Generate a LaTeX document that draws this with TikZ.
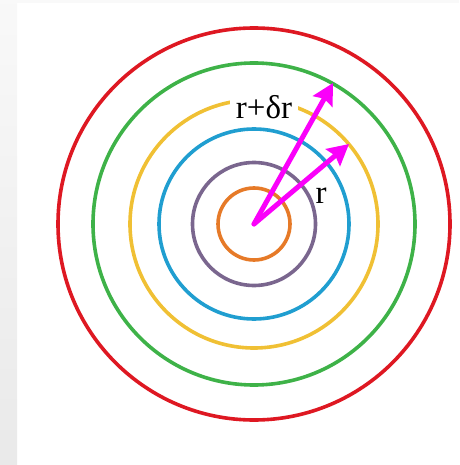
\documentclass[tikz,border=0pt]{standalone}
\usepackage{fontspec}
\setmainfont{Liberation Serif}
\usepackage{tikz}
\usetikzlibrary{arrows.meta,calc}
\definecolor{ringred}{RGB}{222,24,34}
\definecolor{ringgreen}{RGB}{62,178,72}
\definecolor{ringyellow}{RGB}{240,192,52}
\definecolor{ringblue}{RGB}{32,158,208}
\definecolor{ringpurple}{RGB}{122,102,142}
\definecolor{ringorange}{RGB}{230,122,40}
\definecolor{radmag}{RGB}{250,0,250}
\tikzset{
  ring/.style={line width=3.6pt},
  radius/.style={draw=radmag, line width=5pt, line cap=round,
                 -{Stealth[length=21pt,width=22pt,inset=3pt]}},
  rlabel/.style={font=\fontsize{33}{35}\selectfont, inner sep=1pt},
}
\begin{document}
\begin{tikzpicture}[x=1pt, y=-1pt]
    \useasboundingbox (0,0) rectangle (459,465);
    % page edge
    \fill[gray!5] (0,0) rectangle (459,3);
    \shade[top color=gray!5, bottom color=gray!17] (0,0) rectangle (17,465);
    % the rings
    \coordinate (o) at (254,224);
    \draw[ring, ringred]    (o) circle (196);
    \draw[ring, ringgreen]  (o) circle (161);
    \draw[ring, ringyellow] (o) circle (124);
    \draw[ring, ringblue]   (o) circle (95);
    \draw[ring, ringpurple] (o) circle (61.5);
    \draw[ring, ringorange] (o) circle (36);
    \node[rlabel, fill=white, inner xsep=6pt] (dr) at (264,107) {r+δr};
    % the two radii
    \coordinate (tipout) at (333,83);
    \coordinate (tipin)  at (349,144);
    \draw[radius] (o) -- (tipout);
    \draw[radius] (o) -- (tipin);
    \node[rlabel] (r) at (321,196) {r};
  \end{tikzpicture}
\end{document}
